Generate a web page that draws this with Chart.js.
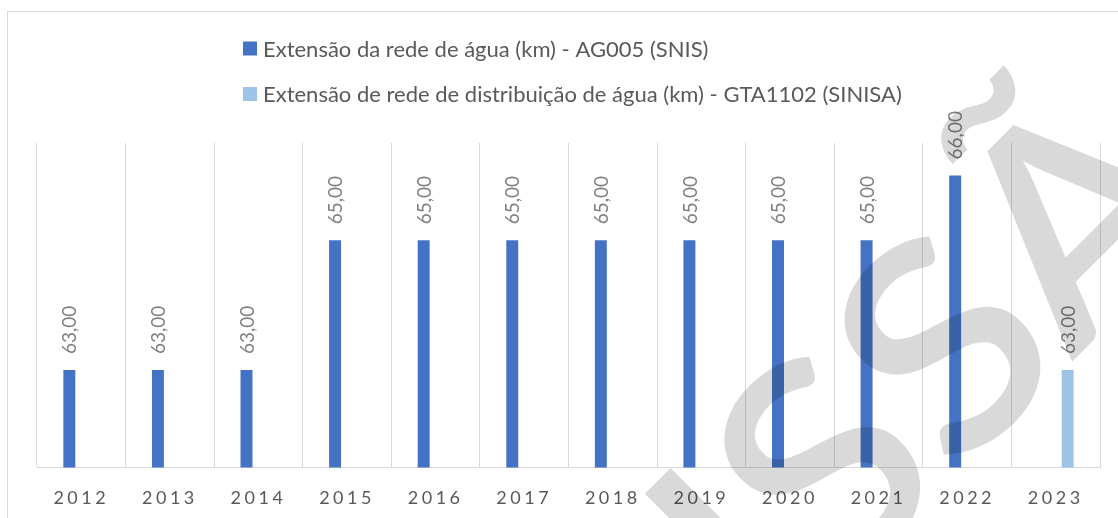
<!DOCTYPE html>
<html>
<head>
<meta charset="utf-8">
<script src="https://cdn.jsdelivr.net/npm/chart.js@4.4.1/dist/chart.umd.min.js"></script>
<style>
    html, body { margin: 0; padding: 0; background: #fff; overflow: hidden; }
    canvas { display: block; }
</style>
</head>
<body>
<canvas id="barChart" width="1118" height="518"></canvas>
<script>
// dados
const anos = ['2012', '2013', '2014', '2015', '2016', '2017', '2018', '2019', '2020', '2021', '2022', '2023'];
const redeSnis = [63, 63, 63, 65, 65, 65, 65, 65, 65, 65, 66, null];
const redeSinisa = [null, null, null, null, null, null, null, null, null, null, null, 63];
const nomesSeries = [
    'Extensão da rede de água (km) - AG005 (SNIS)',
    'Extensão de rede de distribuição de água (km) - GTA1102 (SINISA)'
];
const coresSeries = ['#4472C4', '#9DC3E6'];
const marcaDagua = 'DISCUSSÃO';

const corTexto = '#595959';
const corGrade = '#D9D9D9';

// moldura + espaçamento das letras do eixo X
const moldura = {
    id: 'moldura',
    beforeDraw(chart) {
        const ctx = chart.ctx;
        ctx.save();
        ctx.fillStyle = '#fff';
        ctx.fillRect(0, 0, chart.width, chart.height);
        ctx.strokeStyle = corGrade;
        ctx.lineWidth = 1;
        ctx.strokeRect(7.5, 11.5, 1300, 700);
        ctx.restore();
        ctx.letterSpacing = '3.5px'; // só para os rótulos do eixo
    },
    beforeDatasetsDraw(chart) {
        chart.ctx.letterSpacing = '0px';
    }
};

// legenda empilhada, alinhada à esquerda
const legenda = {
    id: 'legenda',
    afterDatasetsDraw(chart) {
        const ctx = chart.ctx;
        const linhas = [48.5, 94];
        ctx.save();
        ctx.font = '22px Lato';
        ctx.textBaseline = 'middle';
        chart.data.datasets.forEach((ds, i) => {
            ctx.fillStyle = ds.backgroundColor;
            ctx.fillRect(243, linhas[i] - 7, 14, 14);
            ctx.fillStyle = corTexto;
            ctx.fillText(ds.label, 263, linhas[i] + 1);
        });
        ctx.restore();
    }
};

// rótulos de dados verticais
const rotulos = {
    id: 'rotulos',
    afterDatasetsDraw(chart) {
        const ctx = chart.ctx;
        ctx.save();
        ctx.font = '19px Lato';
        ctx.fillStyle = '#7F7F7F';
        ctx.textAlign = 'left';
        ctx.textBaseline = 'middle';
        chart.data.datasets.forEach((ds, i) => {
            const meta = chart.getDatasetMeta(i);
            meta.data.forEach((bar, j) => {
                const v = ds.data[j];
                if (v === null || v === undefined) return;
                ctx.save();
                ctx.translate(bar.x + 1, bar.y - 16);
                ctx.rotate(-Math.PI / 2);
                ctx.fillText(v.toFixed(2).replace('.', ','), 0, 0);
                ctx.restore();
            });
        });
        ctx.restore();
    }
};

// marca d'água diagonal
const marca = {
    id: 'marca',
    afterDraw(chart) {
        const ctx = chart.ctx;
        const tam = 290;
        ctx.save();
        ctx.font = '600 ' + tam + 'px Lato';
        const larguraS = ctx.measureText('S').width;
        const sx = 170 / larguraS;
        ctx.translate(942, 345);
        ctx.rotate(-Math.PI / 4);
        ctx.scale(sx, 1);
        const antes = ctx.measureText(marcaDagua.slice(0, 6)).width;
        ctx.fillStyle = 'rgba(0, 0, 0, 0.15)';
        ctx.textBaseline = 'alphabetic';
        ctx.fillText(marcaDagua, -antes - larguraS / 2, tam * 0.7165 / 2);
        ctx.restore();
    }
};

const ctx = document.getElementById('barChart').getContext('2d');
const grafico = new Chart(ctx, {
    type: 'bar',
    data: {
        labels: anos,
        datasets: [{
            label: nomesSeries[0],
            data: redeSnis,
            backgroundColor: coresSeries[0],
            categoryPercentage: 0.54,
            barPercentage: 0.5
        }, {
            label: nomesSeries[1],
            data: redeSinisa,
            backgroundColor: coresSeries[1],
            categoryPercentage: 0.54,
            barPercentage: 0.5
        }]
    },
    options: {
        responsive: false,
        devicePixelRatio: 1,
        animation: false,
        layout: {
            padding: { top: 143, left: 37, right: 18, bottom: -11 }
        },
        plugins: {
            legend: { display: false },
            tooltip: { enabled: false }
        },
        scales: {
            x: {
                grid: { color: corGrade, drawTicks: false, offset: true },
                border: { color: corGrade },
                ticks: {
                    color: corTexto,
                    font: { family: 'Lato', size: 18 },
                    padding: 20,
                    maxRotation: 0,
                    autoSkip: false
                }
            },
            y: {
                display: false,
                min: 61.5,
                max: 66.5
            }
        }
    },
    plugins: [moldura, legenda, rotulos, marca]
});
</script>
</body>
</html>
